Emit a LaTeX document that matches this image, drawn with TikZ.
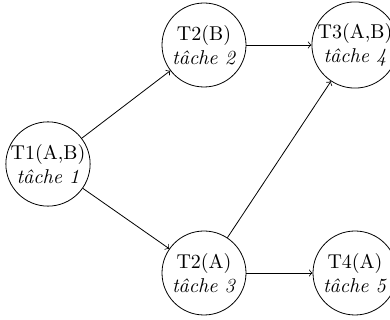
\documentclass[tikz,border=0pt]{standalone}
\usetikzlibrary{arrows}
\begin{document}
\begin{tikzpicture}[x=1pt,y=1pt,
  task/.style={draw,circle,inner sep=0pt,minimum size=42pt,align=center},
  edge/.style={->}]
\useasboundingbox (0,0) rectangle (195,160);
\node[task] (t1) at (24,78) {T1(A,B)\\\textit{tâche 1}};
\node[task] (t2b) at (102,137.5) {T2(B)\\\textit{tâche 2}};
\node[task] (t3) at (177.5,137.5) {T3(A,B)\\\textit{tâche 4}};
\node[task] (t2a) at (102,23.5) {T2(A)\\\textit{tâche 3}};
\node[task] (t4) at (177.5,23.5) {T4(A)\\\textit{tâche 5}};
\draw[edge] (t1) -- (t2b);
\draw[edge] (t1) -- (t2a);
\draw[edge] (t2b) -- (t3);
\draw[edge] (t2a) -- (t3);
\draw[edge] (t2a) -- (t4);
\end{tikzpicture}
\end{document}
